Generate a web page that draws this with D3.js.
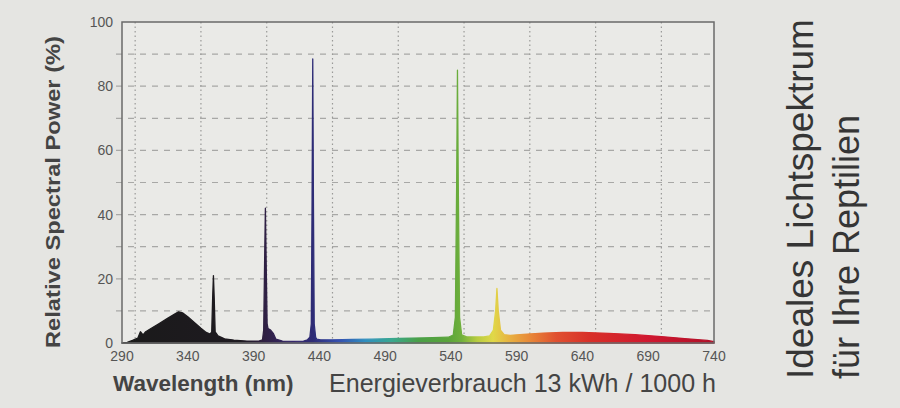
<!DOCTYPE html>
<html lang="de">
<head>
<meta charset="utf-8">
<title>Spektrum</title>
<script src="https://cdn.jsdelivr.net/npm/d3@7"></script>
<style>
  body { margin: 0; background: #e5e5e2; }
  svg { display: block; font-family: "Liberation Sans", Arial, sans-serif; }
  .tick-label { font-size: 14px; fill: #555; }
</style>
</head>
<body>
<svg></svg>
<script>
// spectrum: wavelength (nm) and relative power (%)
var wavelengths = [290, 294, 298, 302, 304, 306, 308, 312, 318, 324, 330, 333, 336, 340, 345, 350, 354, 357, 358.2, 358.9, 359.5, 360.1, 360.8, 363, 368, 375, 385, 394, 396.8, 397.7, 398.4, 399, 399.6, 400.3, 401, 403, 405, 407, 412, 420, 428, 431, 432.8, 433.9, 434.5, 435, 435.5, 436.1, 437.2, 438, 441, 450, 465, 480, 500, 520, 538, 541.8, 543.4, 544.4, 545, 545.6, 546.6, 548.2, 552, 565, 569.5, 572.3, 574, 575, 576, 577.7, 580.5, 585, 595, 610, 625, 640, 660, 680, 700, 720, 735, 740];
var power = [0, 0.2, 0.8, 1.5, 3.5, 2.5, 3.5, 4.5, 6, 7.5, 9, 9.7, 9.4, 8.2, 6.4, 4.6, 3.3, 2.8, 3.5, 14, 21, 14, 3.5, 2.2, 1.3, 0.9, 0.6, 0.6, 1, 4, 25, 42, 25, 6, 4.5, 4, 3, 1.2, 0.6, 0.5, 0.6, 1, 1.8, 6, 45, 88.5, 45, 6, 1.8, 1.2, 1, 1, 1.1, 1.2, 1.4, 1.6, 1.8, 2.5, 8, 50, 85, 50, 8, 2.5, 1.9, 1.9, 2.2, 4, 10, 17, 10, 4, 2.6, 2.4, 2.7, 3.1, 3.3, 3.3, 3, 2.6, 2, 1.3, 0.8, 0.4];

var xTicks = [290, 340, 390, 440, 490, 540, 590, 640, 690, 740];
var yTicks = [0, 20, 40, 60, 80, 100];
var xGrid = [300, 350, 400, 450, 500, 550, 600, 650, 700];
var yGrid = [10, 20, 30, 40, 50, 60, 70, 80, 90];

// colour of the fill by wavelength
var stopNm = [290, 380, 396, 420, 435, 455, 475, 495, 515, 538, 548, 560, 572, 585, 600, 620, 645, 690, 740];
var stopColor = ["#1a1a1a", "#1e1a20", "#2e1f3e", "#35266a", "#2e2c76", "#3550b0", "#2f8fc0", "#3aa890", "#4aa048", "#5aa43a", "#70b03c", "#b8cc40", "#e0d848", "#e8b040", "#e88838", "#e05030", "#d83028", "#d01830", "#b01028"];

var width = 900, height = 408;
var pL = 122, pR = 714, pT = 22, pB = 343;

var svg = d3.select("svg").attr("width", width).attr("height", height);

var x = d3.scaleLinear().domain([290, 740]).range([pL, pR]);
var y = d3.scaleLinear().domain([0, 100]).range([pB, pT]);

// plot background
svg.append("rect")
  .attr("x", pL).attr("y", pT)
  .attr("width", pR - pL).attr("height", pB - pT)
  .attr("fill", "#eaeae7");

// grid
svg.append("g").selectAll("line")
  .data(yGrid).enter().append("line")
  .attr("x1", pL - 6).attr("x2", pR)
  .attr("y1", function(d){ return y(d); })
  .attr("y2", function(d){ return y(d); })
  .attr("stroke", "#a8a8a6").attr("stroke-width", 1.2)
  .attr("stroke-dasharray", "6,6");

svg.append("g").selectAll("line")
  .data(xGrid).enter().append("line")
  .attr("x1", function(d){ return x(d); })
  .attr("x2", function(d){ return x(d); })
  .attr("y1", pT).attr("y2", pB)
  .attr("stroke", "#9a9a98").attr("stroke-width", 1.2)
  .attr("stroke-dasharray", "1.5,3");

// gradient
var grad = svg.append("defs").append("linearGradient")
  .attr("id", "spec")
  .attr("gradientUnits", "userSpaceOnUse")
  .attr("x1", x(290)).attr("x2", x(740))
  .attr("y1", 0).attr("y2", 0);
grad.selectAll("stop")
  .data(stopNm).enter().append("stop")
  .attr("offset", function(d){ return (d - 290) / 450; })
  .attr("stop-color", function(d, i){ return stopColor[i]; });

var pts = wavelengths.map(function(w, i){ return [w, power[i]]; });
var area = d3.area()
  .x(function(d){ return x(d[0]); })
  .y0(y(0))
  .y1(function(d){ return y(d[1]); });

svg.append("path")
  .datum(pts)
  .attr("d", area)
  .attr("fill", "url(#spec)")
  .attr("stroke", "url(#spec)")
  .attr("stroke-width", 1.3)
  .attr("stroke-linejoin", "round");

// frame
svg.append("rect")
  .attr("x", pL).attr("y", pT)
  .attr("width", pR - pL).attr("height", pB - pT)
  .attr("fill", "none").attr("stroke", "#6a6a6a").attr("stroke-width", 1.5);

// tick labels
svg.append("g").selectAll("text")
  .data(xTicks).enter().append("text")
  .attr("class", "tick-label")
  .attr("x", function(d){ return x(d); })
  .attr("y", pB + 18)
  .attr("text-anchor", "middle")
  .text(function(d){ return d; });

svg.append("g").selectAll("text")
  .data(yTicks).enter().append("text")
  .attr("class", "tick-label")
  .attr("x", pL - 9)
  .attr("y", function(d){ return y(d) + 5; })
  .attr("text-anchor", "end")
  .text(function(d){ return d; });

// axis titles
svg.append("text")
  .attr("transform", "translate(60,348) rotate(-90)")
  .attr("font-size", 21).attr("font-weight", "bold").attr("fill", "#444")
  .attr("textLength", 312).attr("lengthAdjust", "spacingAndGlyphs")
  .text("Relative Spectral Power (%)");

svg.append("text")
  .attr("x", 113).attr("y", 391)
  .attr("font-size", 22.5).attr("font-weight", "bold").attr("fill", "#444")
  .text("Wavelength (nm)");

svg.append("text")
  .attr("x", 329).attr("y", 392)
  .attr("font-size", 25).attr("fill", "#444")
  .attr("textLength", 387).attr("lengthAdjust", "spacingAndGlyphs")
  .text("Energieverbrauch 13 kWh / 1000 h");

// side text
svg.append("text")
  .attr("transform", "translate(813,379) rotate(-90)")
  .attr("font-size", 37).attr("fill", "#353535")
  .text("Ideales Lichtspektrum");

svg.append("text")
  .attr("transform", "translate(859,379) rotate(-90)")
  .attr("font-size", 36).attr("fill", "#353535")
  .text("für Ihre Reptilien");
</script>
</body>
</html>
